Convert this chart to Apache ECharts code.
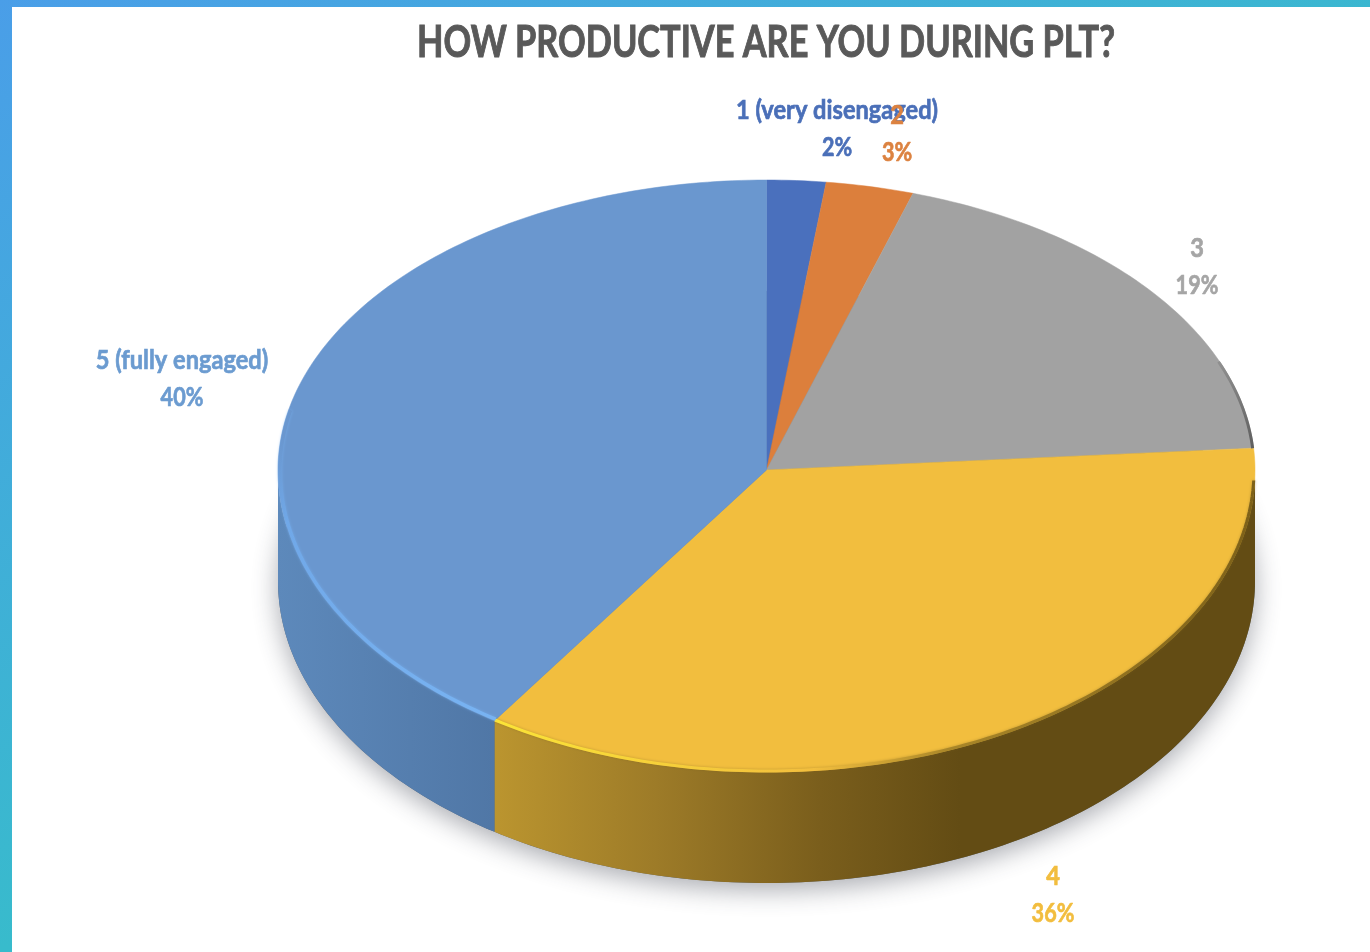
<!DOCTYPE html>
<html>
<head>
<meta charset="utf-8">
<title>How productive are you during PLT?</title>
<script src="https://cdn.jsdelivr.net/npm/echarts@6/dist/echarts.min.js"></script>
<style>
    html,body{margin:0;padding:0;background:#fff;}
    #main{width:1370px;height:952px;}
</style>
</head>
<body>
<div id="main"></div>
<script>
var titleText='HOW PRODUCTIVE ARE YOU DURING PLT?';
var categories=['1 (very disengaged)','2','3','4','5 (fully engaged)'];
// shares, the printed percentages are rounded
var shares=[1.95,2.9,18.95,35.6,40.6];
var percentLabels=['2%','3%','19%','36%','40%'];

// look of the slices, same order as categories
var topColors=['#4a70bd','#dc7f3c','#a2a2a2','#f2be3e','#6a97cf'];
var textColors=['#4a6fb8','#dc8240','#a5a5a5','#f2bd3e','#6b9bd0'];
var labelAt=[[837,110],[897,115],[1197,248],[1053,876],[182,360]];

// the tilted disc
var cx=766.5,cy=470,rx=488.5,ryBack=290,ryFront=302,depth=111;

var myChart=echarts.init(document.getElementById('main'));

var total=shares.reduce(function(a,b){return a+b;},0);
var starts=[];
shares.reduce(function(sum,v,i){starts[i]=sum;return sum+v;},0);

// t in degrees, clockwise from 12 o'clock
function rimPoint(t,drop,inset){
    var r=t*Math.PI/180;
    var c=Math.cos(r);
    var ry=c>0?ryBack:ryFront;
    inset=inset||0;
    return [cx+(rx-inset)*Math.sin(r),cy-(ry-inset)*c+(drop||0)];
}
function arcPoints(a,b,drop,inset){
    var pts=[];
    var n=Math.max(2,Math.ceil(Math.abs(b-a)));
    for(var i=0;i<=n;i++){
        pts.push(rimPoint(a+(b-a)*i/n,drop,inset));
    }
    return pts;
}
function sliceAngles(i){
    return [starts[i]/total*360,(starts[i]+shares[i])/total*360];
}
function hGrad(x0,x1,stops){
    return new echarts.graphic.LinearGradient(x0,0,x1,0,stops,true);
}

function wallFill(i){
    if(i===3){
        return hGrad(494,960,[
            {offset:0,color:'#bb952f'},
            {offset:0.35,color:'#9d7b28'},
            {offset:0.7,color:'#7a5e1c'},
            {offset:1,color:'#634c14'}
        ]);
    }
    if(i===4){
        return hGrad(278,494,[
            {offset:0,color:'#5d89bb'},
            {offset:1,color:'#5077a6'}
        ]);
    }
    return '#5c5c5c';
}

function renderShadow(params,api){
    if(params.dataIndex>0){return null;}
    var pts=arcPoints(0,360,depth);
    return {
        type:'polygon',
        shape:{points:pts},
        silent:true,
        style:{
            // dark fill so no white seam shows between the walls
            fill:'#5a6470',
            shadowColor:'rgba(50,55,70,0.42)',
            shadowBlur:26,
            shadowOffsetY:7
        }
    };
}

function renderWall(params,api){
    var i=api.value(0);
    var ang=sliceAngles(i);
    var a=Math.max(ang[0],90),b=Math.min(ang[1],270);
    if(b<=a){return null;}
    var pts=arcPoints(a,b,0).concat(arcPoints(b,a,depth));
    return {
        type:'polygon',
        shape:{points:pts},
        silent:true,
        style:{fill:wallFill(i)}
    };
}

function renderTop(params,api){
    var i=api.value(0);
    var ang=sliceAngles(i);
    var pts=[[cx,cy]].concat(arcPoints(ang[0],ang[1],0));
    return {
        type:'polygon',
        shape:{points:pts},
        style:{fill:topColors[i],stroke:topColors[i],lineWidth:0.5}
    };
}

// soft bevel along the edge of the top face
function renderRim(params,api){
    var i=api.value(0);
    var ang=sliceAngles(i);
    if(i===4){
        return {
            type:'polyline',
            shape:{points:arcPoints(ang[0],282,0,2)},
            silent:true,
            style:{
                fill:null,lineWidth:3.5,
                stroke:new echarts.graphic.LinearGradient(494,715,278,440,[
                    {offset:0,color:'#78b3f2'},
                    {offset:0.8,color:'#70a8e8'},
                    {offset:1,color:'#6a97cf'}
                ],true),
                shadowColor:'rgba(120,180,245,0.6)',shadowBlur:3
            }
        };
    }
    if(i===3){
        return {
            type:'polyline',
            shape:{points:arcPoints(92,ang[1],0,1)},
            silent:true,
            style:{
                fill:null,lineWidth:3,
                stroke:hGrad(494,1255,[
                    {offset:0,color:'#fbe437'},
                    {offset:0.22,color:'#f6d03a'},
                    {offset:0.42,color:'#f2be3e'},
                    {offset:0.6,color:'#a98628'},
                    {offset:1,color:'#7d6119'}
                ]),
                shadowColor:'rgba(120,95,30,0.4)',shadowBlur:3
            }
        };
    }
    if(i===2){
        return {
            type:'polyline',
            shape:{points:arcPoints(68,ang[1],0,1)},
            silent:true,
            style:{
                fill:null,lineWidth:3,
                stroke:new echarts.graphic.LinearGradient(1190,340,1252,448,[
                    {offset:0,color:'#a2a2a2'},
                    {offset:1,color:'#5f5f5f'}
                ],true)
            }
        };
    }
    return null;
}

function renderLabel(params,api){
    var i=api.value(0);
    return {
        type:'group',
        silent:true,
        children:[categories[i],percentLabels[i]].map(function(txt,k){
            return {
                type:'text',
                x:labelAt[i][0],
                y:labelAt[i][1]+k*37,
                // the name line runs wider than the digits in the original
                scaleX:k===0?0.875:0.8,
                style:{
                    text:txt,
                    textAlign:'center',
                    textVerticalAlign:'middle',
                    fill:textColors[i],
                    stroke:textColors[i],
                    lineWidth:0.7,
                    font:'bold 27px Lato, "Open Sans", sans-serif'
                }
            };
        })
    };
}

var indexData=categories.map(function(name,i){return {name:name,value:[i]};});

function customSeries(fn,z){
    return {
        type:'custom',
        coordinateSystem:'none',
        renderItem:fn,
        data:indexData,
        z:z,
        animation:false,
        silent:true
    };
}

var option={
    animation:false,
    graphic:[{
        // blue to teal frame, only the top and left edges stay visible
        type:'rect',
        z:-2,
        silent:true,
        shape:{x:0,y:0,width:1370,height:952},
        style:{
            fill:new echarts.graphic.LinearGradient(0,0,416,704,[
                {offset:0,color:'#4a9ee8'},
                {offset:1,color:'#38bbcc'}
            ],true)
        }
    },{
        type:'rect',
        z:-1,
        silent:true,
        shape:{x:12,y:7,width:1358,height:945},
        style:{fill:'#ffffff'}
    },{
        type:'text',
        z:10,
        silent:true,
        x:766,
        y:43,
        scaleX:0.78,
        style:{
            text:titleText,
            textAlign:'center',
            textVerticalAlign:'middle',
            fill:'#595959',
            stroke:'#595959',
            lineWidth:1,
            font:'bold 44px Lato, "Open Sans", sans-serif'
        }
    }],
    series:[
        customSeries(renderShadow,1),
        customSeries(renderWall,2),
        customSeries(renderTop,3),
        customSeries(renderRim,4),
        customSeries(renderLabel,5)
    ]
};
myChart.setOption(option);
</script>
</body>
</html>
